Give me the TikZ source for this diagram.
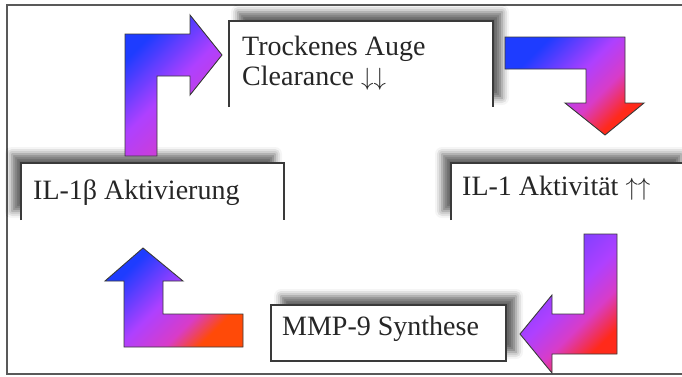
\documentclass[tikz,border=0pt]{standalone}
\usepackage{fontspec}
\setmainfont{Liberation Serif}
\usetikzlibrary{shadows.blur}

\definecolor{arrblue}{HTML}{1E3CFF}
\definecolor{arrviolet}{HTML}{7040FF}
\definecolor{arrpurple}{HTML}{AE40FF}
\definecolor{arrmag}{HTML}{D83CC8}
\definecolor{arrred}{HTML}{FF2A1A}
\definecolor{arrorange}{HTML}{FF4A08}
\definecolor{linegray}{HTML}{3A3A3A}

\pgfdeclareverticalshading{gradpink}{100bp}{color(0bp)=(arrmag); color(28bp)=(arrmag);
  color(50bp)=(arrpurple); color(72bp)=(arrblue); color(100bp)=(arrblue)}
\pgfdeclareverticalshading{gradred}{100bp}{color(0bp)=(arrred); color(28bp)=(arrred);
  color(40bp)=(arrmag); color(52bp)=(arrpurple); color(72bp)=(arrblue); color(100bp)=(arrblue)}
\pgfdeclareverticalshading{gradviolet}{100bp}{color(0bp)=(arrred); color(28bp)=(arrred);
  color(40bp)=(arrmag); color(52bp)=(arrpurple); color(72bp)=(arrviolet); color(100bp)=(arrviolet)}
\pgfdeclareverticalshading{gradorange}{100bp}{color(0bp)=(arrorange); color(28bp)=(arrorange);
  color(38bp)=(arrmag); color(52bp)=(arrpurple); color(72bp)=(arrblue); color(100bp)=(arrblue)}

\tikzset{
  lbl/.style={anchor=base west, inner sep=0pt, text=black!85, font=\fontsize{28}{30}\selectfont, align=left},
  boxfill/.style={fill=white, blur shadow={shadow xshift=#1, shadow yshift=9pt, shadow blur radius=7pt, shadow opacity=60}},
  boxside/.style={draw=linegray, line width=1.1pt},
  blockarrow/.style={draw=linegray, line width=0.9pt, shade, shading=#1, shading angle=45}
}

\begin{document}
\begin{tikzpicture}[x=1pt,y=-1pt]
  \useasboundingbox (0,0) rectangle (682,376);
  % outer frame, open on the right
  \draw[draw=black!65, line width=1.5pt] (682,5) -- (7,5) -- (7,374) -- (682,374);

  % boxes with shadows
  \fill[boxfill=9pt] (229,21) rectangle (493,107);
  \fill[boxfill=-9pt] (21,163) rectangle (284,220);
  \fill[boxfill=-9pt] (451,163) rectangle (690,220);
  \fill[boxfill=10pt] (271,305) rectangle (506,361);
  \draw[boxside] (229,107) -- (229,21) -- (493,21) -- (493,107);
  \draw[boxside] (21,220) -- (21,163) -- (284,163) -- (284,220);
  \draw[boxside] (451,220) -- (451,163) -- (682,163);
  \draw[boxside] (271,305) rectangle (506,361);

  \node[lbl] (dry) at (242,85) {Trockenes Auge\\Clearance $\downarrow\downarrow$};
  \node[lbl] (ilb) at (33,199) {IL-1β Aktivierung};
  \node[lbl] (ila) at (462,195) {IL-1 Aktivität $\uparrow\uparrow$};
  \node[lbl] (mmp) at (282,335) {MMP-9 Synthese};

  % block arrows
  \path[blockarrow=gradpink]
    (125,156) -- (125,34) -- (190,34) -- (190,15) -- (222,55) -- (190,95)
    -- (190,76) -- (157,76) -- (157,156) -- cycle;
  \path[blockarrow=gradred]
    (505,37) -- (625,37) -- (625,103) -- (644,103) -- (605,135) -- (565,103)
    -- (586,103) -- (586,69) -- (505,69) -- cycle;
  \path[blockarrow=gradviolet]
    (584,234) -- (617,234) -- (617,354) -- (552,354) -- (552,373) -- (520,334)
    -- (552,295) -- (552,314) -- (584,314) -- cycle;
  \path[blockarrow=gradorange]
    (243,314) -- (243,347) -- (124,347) -- (124,281) -- (105,281) -- (143,248)
    -- (183,281) -- (163,281) -- (163,314) -- cycle;
\end{tikzpicture}
\end{document}
